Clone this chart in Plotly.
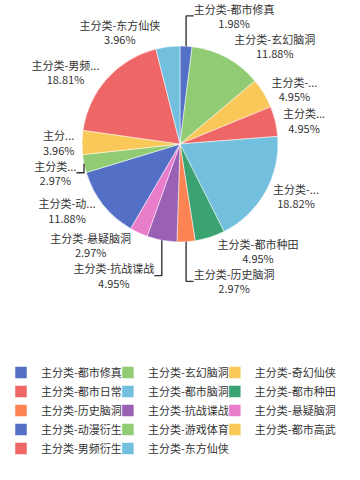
import plotly.graph_objects as go

categories = ["主分类-都市修真", "主分类-玄幻脑洞", "主分类-奇幻仙侠", "主分类-都市日常",
              "主分类-都市脑洞", "主分类-都市种田", "主分类-历史脑洞", "主分类-抗战谍战",
              "主分类-悬疑脑洞", "主分类-动漫衍生", "主分类-游戏体育", "主分类-都市高武",
              "主分类-男频衍生", "主分类-东方仙侠"]
counts = [2, 12, 5, 5, 19, 5, 3, 5, 3, 12, 3, 4, 19, 4]
pct_labels = ["1.98%", "11.88%", "4.95%", "4.95%", "18.82%", "4.95%", "2.97%", "4.95%",
              "2.97%", "11.88%", "2.97%", "3.96%", "18.81%", "3.96%"]
shown_names = ["主分类-都市修真", "主分类-玄幻脑洞", "主分类-...", "主分类...",
               "主分类-...", "主分类-都市种田", "主分类-历史脑洞", "主分类-抗战谍战",
               "主分类-悬疑脑洞", "主分类-动...", "主分类...", "主分...",
               "主分类-男频...", "主分类-东方仙侠"]
colors = ["#5470c6", "#91cc75", "#fac858", "#ee6666", "#73c0de", "#3ba272", "#fc8452",
          "#9a60b4", "#ea7ccc", "#5470c6", "#91cc75", "#fac858", "#ee6666", "#73c0de"]

texts = [f"{n}<br>{p}" for n, p in zip(shown_names, pct_labels)]

fig = go.Figure(go.Pie(
    labels=categories,
    values=counts,
    text=texts,
    textinfo="text",
    textposition="outside",
    sort=False,
    direction="clockwise",
    rotation=0,
    automargin=False,
    marker=dict(colors=colors, line=dict(color="#ffffff", width=0.5)),
    textfont=dict(family="Noto Sans CJK SC", size=11, color="#333333"),
    domain=dict(x=[0, 1], y=[1 - 242 / 480, 1 - 46 / 480]),
    showlegend=True,
))

fig.update_layout(
    width=360, height=480,
    margin=dict(l=0, r=0, t=0, b=0, autoexpand=False),
    paper_bgcolor="#ffffff",
    plot_bgcolor="#ffffff",
    font=dict(family="Noto Sans CJK SC", size=11, color="#333333"),
    legend=dict(
        orientation="h",
        x=11 / 360, xanchor="left",
        y=1 - 358 / 480, yanchor="top",
        entrywidth=0.297, entrywidthmode="fraction",
        indentation=-10,
        font=dict(family="Noto Sans CJK SC", size=11, color="#333333"),
        itemclick=False,
    ),
)

fig.write_html("out.html", config={"displayModeBar": False})
